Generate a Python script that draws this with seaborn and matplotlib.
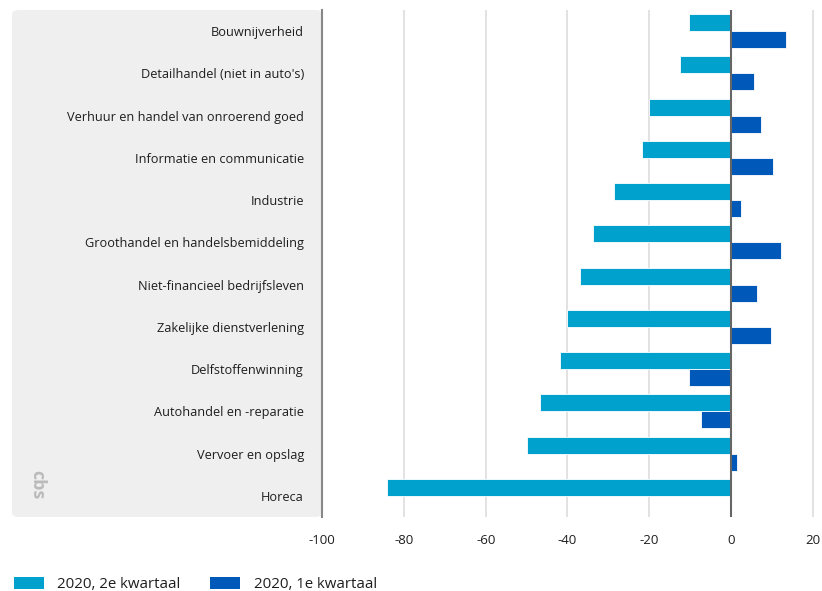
import matplotlib
matplotlib.use("Agg")
import matplotlib.pyplot as plt
from matplotlib.patches import FancyBboxPatch, Patch
import pandas as pd
import seaborn as sns

sectors = [
    "Bouwnijverheid",
    "Detailhandel (niet in auto's)",
    "Verhuur en handel van onroerend goed",
    "Informatie en communicatie",
    "Industrie",
    "Groothandel en handelsbemiddeling",
    "Niet-financieel bedrijfsleven",
    "Zakelijke dienstverlening",
    "Delfstoffenwinning",
    "Autohandel en -reparatie",
    "Vervoer en opslag",
    "Horeca",
]
q2_2020 = [-10.4, -12.6, -20.0, -21.9, -28.6, -33.8, -36.9, -40.0, -41.8, -46.8, -49.9, -84.1]
q1_2020 = [13.5, 5.7, 7.3, 10.3, 2.3, 12.2, 6.4, 9.7, -10.4, -7.3, 1.4, 0.0]
series = ["2020, 2e kwartaal", "2020, 1e kwartaal"]
colors = ["#00a1cd", "#0058b8"]

df = pd.DataFrame({
    "sector": sectors * 2,
    "periode": [series[0]] * len(sectors) + [series[1]] * len(sectors),
    "waarde": q2_2020 + q1_2020,
})

sns.set_style("white")
plt.rcParams["font.family"] = ["Open Sans", "DejaVu Sans"]
plt.rcParams["axes.unicode_minus"] = False
text_color = "#1e1e1e"

fig = plt.figure(figsize=(8.22, 5.91), dpi=100)
ax = fig.add_axes([322 / 822, 1 - 517 / 591, 1 - 322 / 822 - 0.001, (517 - 10) / 591])

# grey label panel behind the category names
panel = FancyBboxPatch((12 / 822, 1 - 517 / 591), (322 - 12) / 822, (517 - 10) / 591,
                       boxstyle="round,pad=0,rounding_size=0.008",
                       transform=fig.transFigure, facecolor="#efefef",
                       edgecolor="none", zorder=-5)
fig.patches.append(panel)

sns.barplot(data=df, y="sector", x="waarde", hue="periode", hue_order=series,
            palette=colors, saturation=1, orient="h", width=0.8, ax=ax, legend=False,
            edgecolor="white", linewidth=0.6, zorder=3)

ax.set_xlim(-100, 22)
ax.set_xticks(range(-100, 21, 20))
ax.set_xlabel("")
ax.set_ylabel("")
ax.grid(axis="x", color="#dddddd", linewidth=1.2, zorder=0)
ax.axvline(0, color="#666666", linewidth=1.5, zorder=4)
for side in ["top", "right", "bottom"]:
    ax.spines[side].set_visible(False)
ax.spines["left"].set_color("#888888")
ax.spines["left"].set_linewidth(1.5)
ax.tick_params(axis="x", length=0, pad=12, labelsize=9.5, labelcolor=text_color)
ax.tick_params(axis="y", length=0, pad=13, labelsize=9.2, labelcolor=text_color)
ax.set_facecolor("none")

# cbs mark in the panel
fig.text(37 / 822, 1 - 485 / 591, "cbs", rotation=-90, color="#bbbbbb",
         fontsize=13, fontweight="bold", ha="center", va="center")

handles = [Patch(facecolor=c, edgecolor="none") for c in colors]
fig.legend(handles, series, loc="lower left", bbox_to_anchor=(0.0, -0.025),
           ncol=2, frameon=False, fontsize=10.8, labelcolor=text_color,
           handlelength=2.0, handleheight=0.9, columnspacing=2.0, handletextpad=0.9)

fig.savefig("out.png", dpi=100)
